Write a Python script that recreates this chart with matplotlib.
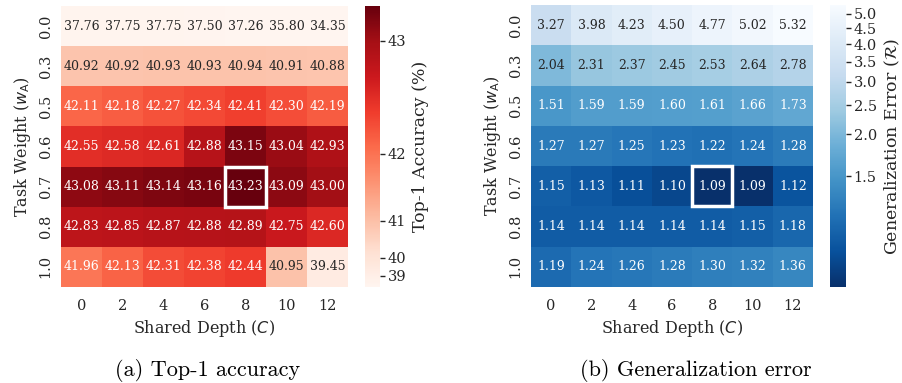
import numpy as np
import matplotlib
matplotlib.use("Agg")
from matplotlib import pyplot as plt
from matplotlib.colors import PowerNorm, to_rgb
from matplotlib.patches import Rectangle

depths = [0, 2, 4, 6, 8, 10, 12]
weights = ["0.0", "0.3", "0.5", "0.6", "0.7", "0.8", "1.0"]

acc = [[37.76, 37.75, 37.75, 37.50, 37.26, 35.80, 34.35],
       [40.92, 40.92, 40.93, 40.93, 40.94, 40.91, 40.88],
       [42.11, 42.18, 42.27, 42.34, 42.41, 42.30, 42.19],
       [42.55, 42.58, 42.61, 42.88, 43.15, 43.04, 42.93],
       [43.08, 43.11, 43.14, 43.16, 43.23, 43.09, 43.00],
       [42.83, 42.85, 42.87, 42.88, 42.89, 42.75, 42.60],
       [41.96, 42.13, 42.31, 42.38, 42.44, 40.95, 39.45]]

gen_err = [[3.27, 3.98, 4.23, 4.50, 4.77, 5.02, 5.32],
           [2.04, 2.31, 2.37, 2.45, 2.53, 2.64, 2.78],
           [1.51, 1.59, 1.59, 1.60, 1.61, 1.66, 1.73],
           [1.27, 1.27, 1.25, 1.23, 1.22, 1.24, 1.28],
           [1.15, 1.13, 1.11, 1.10, 1.09, 1.09, 1.12],
           [1.14, 1.14, 1.14, 1.14, 1.14, 1.15, 1.18],
           [1.19, 1.24, 1.26, 1.28, 1.30, 1.32, 1.36]]

acc_ticks = [39, 40, 41, 42, 43]
err_ticks = [1.5, 2.0, 2.5, 3.0, 3.5, 4.0, 4.5, 5.0]
best = (4, 4)   # (row, col) of highlighted cell

plt.rcParams['font.family'] = ['DejaVu Serif']
plt.rcParams['mathtext.fontset'] = 'dejavusans'
TXT = '0.15'
plt.rcParams['text.color'] = TXT
plt.rcParams['axes.labelcolor'] = TXT
plt.rcParams['xtick.color'] = TXT
plt.rcParams['ytick.color'] = TXT

W, H = 903, 383
fig = plt.figure(figsize=(W/100, H/100), dpi=100)

def px(x0, y0, x1, y1):
    return [x0/W, 1 - y1/H, (x1-x0)/W, (y1-y0)/H]

def lum(c):
    rgb = np.array(to_rgb(c))
    rgb = np.where(rgb <= .03928, rgb/12.92, ((rgb + .055)/1.055)**2.4)
    return rgb.dot([.2126, .7152, .0722])

def heat(ax, cax, data, cmap, norm, ticks, tickfmt, clabel):
    data = np.array(data)
    cm = plt.get_cmap(cmap)
    mesh = ax.pcolormesh(data, cmap=cm, norm=norm)
    ax.set_xlim(0, data.shape[1])
    ax.set_ylim(data.shape[0], 0)
    for i in range(data.shape[0]):
        for j in range(data.shape[1]):
            col = cm(norm(data[i, j]))
            tc = TXT if lum(col) > .408 else 'w'
            ax.text(j + .5, i + .5, f"{data[i, j]:.2f}", ha='center', va='center',
                    color=tc, fontsize=9)
    ax.add_patch(Rectangle((best[1], best[0]), 1, 1, fill=False, ec='w', lw=2.5, zorder=5))
    ax.set_xticks(np.arange(len(depths)) + .5)
    ax.set_xticklabels([str(d) for d in depths], fontsize=10.5)
    ax.set_yticks(np.arange(len(weights)) + .5)
    ax.set_yticklabels(weights, rotation=90, va='center', fontsize=10.5)
    ax.tick_params(axis='x', length=0, pad=9)
    ax.tick_params(axis='y', length=0, pad=6)
    for s in ax.spines.values():
        s.set_visible(False)
    ax.set_xlabel(r"Shared Depth ($C$)", fontsize=11.5, labelpad=3)
    ax.set_ylabel(r"Task Weight ($w_\mathrm{A}$)", fontsize=11.5, labelpad=4)
    cb = fig.colorbar(mesh, cax=cax)
    cb.outline.set_visible(False)
    cb.set_ticks(ticks)
    cb.set_ticklabels([tickfmt.format(t) for t in ticks])
    cb.ax.tick_params(labelsize=10.5, length=3.5, width=1, pad=2)
    cb.set_label(clabel, fontsize=12.5, labelpad=4)

ax1 = fig.add_axes(px(61, 6, 348, 287))
cax1 = fig.add_axes(px(365, 6, 380, 287))
a = np.array(acc)
heat(ax1, cax1, acc, 'Reds', PowerNorm(gamma=5, vmin=a.min(), vmax=a.max()),
     acc_ticks, "{:d}", "Top-1 Accuracy (%)")

ax2 = fig.add_axes(px(531, 5, 813, 287))
cax2 = fig.add_axes(px(830, 5, 846, 287))
e = np.array(gen_err)
heat(ax2, cax2, gen_err, 'Blues_r', PowerNorm(gamma=0.4, vmin=e.min(), vmax=e.max()),
     err_ticks, "{:.1f}", r"Generalization Error ($\mathcal{R}$)")

fig.text(208/W, 1 - 371/H, "(a) Top-1 accuracy", ha='center', va='center',
         fontsize=16, family=['cmr10', 'DejaVu Serif'], color='k')
fig.text(696/W, 1 - 371/H, "(b) Generalization error", ha='center', va='center',
         fontsize=16, family=['cmr10', 'DejaVu Serif'], color='k')

fig.savefig("out.png", dpi=100)
